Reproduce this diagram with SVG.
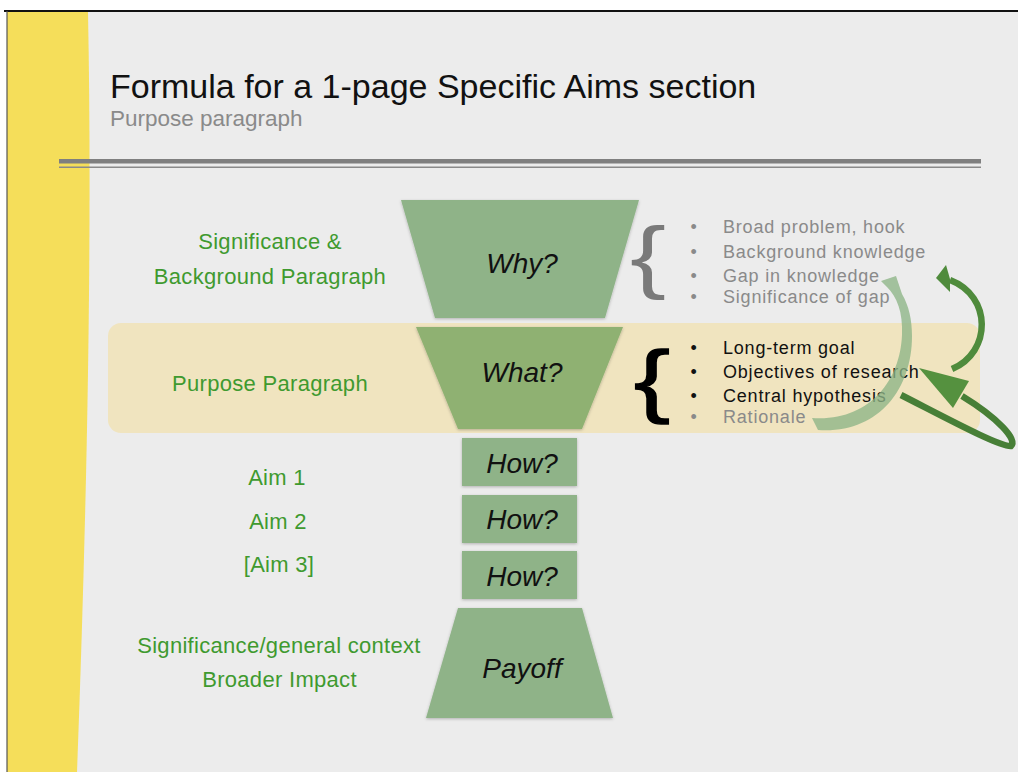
<svg xmlns="http://www.w3.org/2000/svg" width="1018" height="772" viewBox="0 0 1018 772">
<defs>
<style>
.t{font-family:"Liberation Sans",Arial,sans-serif}
.lbl{font-family:"Liberation Sans",Arial,sans-serif;font-size:22px;fill:#3f9a2f;text-anchor:middle;letter-spacing:0.3px}
.q{font-family:"Liberation Sans",Arial,sans-serif;font-size:28px;font-style:italic;fill:#111;text-anchor:middle}
.shape{fill:#8fb388;filter:url(#sh)}
.li{font-family:"Liberation Sans",Arial,sans-serif;font-size:18px;letter-spacing:0.8px}
.g{fill:#8a8a8a}
.k{fill:#111}
</style>
<filter id="sh" x="-10%" y="-10%" width="120%" height="130%">
<feDropShadow dx="0" dy="1" stdDeviation="1.5" flood-color="#000" flood-opacity="0.25"/>
</filter>
</defs>
<rect x="0" y="0" width="1018" height="772" fill="#ffffff"/>
<rect x="7" y="11" width="1011" height="761" fill="#ececec"/>
<path d="M7 12 L88 12 Q94 320 77 772 L7 772 Z" fill="#f5de5a"/>
<line x1="4" y1="11" x2="1018" y2="11" stroke="#111" stroke-width="2"/>
<line x1="7" y1="11" x2="7" y2="772" stroke="#555" stroke-width="1.2"/>

<g id="title">
<text class="t" x="110" y="98" font-size="34" fill="#111">Formula for a 1-page Specific Aims section</text>
<text class="t" x="110" y="126" font-size="22.5" fill="#8a8a8a">Purpose paragraph</text>
<rect x="59" y="159" width="922" height="4.5" fill="#7f7f7f"/>
<rect x="59" y="166.5" width="922" height="1.5" fill="#8a8a8a"/>
</g>

<g id="purpose-band">
<rect x="108" y="323" width="872" height="110" rx="13" fill="#f0e4bf"/>
</g>

<g id="why">
<polygon class="shape" points="401,200 639,200 605,318 435,318"/>
<text class="q" x="522" y="273">Why?</text>
</g>
<g id="what">
<polygon class="shape" points="416,327 623,327 582,429 458,429" style="fill:#8fb172"/>
<text class="q" x="522" y="382">What?</text>
</g>
<g id="how1">
<rect class="shape" x="462" y="438" width="115" height="48"/>
<text class="q" x="522" y="473">How?</text>
</g>
<g id="how2">
<rect class="shape" x="462" y="495" width="115" height="48"/>
<text class="q" x="522" y="529">How?</text>
</g>
<g id="how3">
<rect class="shape" x="462" y="551" width="115" height="48"/>
<text class="q" x="522" y="586">How?</text>
</g>
<g id="payoff">
<polygon class="shape" points="458,608 582,608 613,718 426,718"/>
<text class="q" x="522" y="678" font-size="26">Payoff</text>
</g>

<g id="left-labels">
<text class="lbl" x="270" y="249">Significance &amp;</text>
<text class="lbl" x="270" y="284">Background Paragraph</text>
<text class="lbl" x="270" y="391">Purpose Paragraph</text>
<text class="lbl" x="277" y="485">Aim 1</text>
<text class="lbl" x="278" y="529">Aim 2</text>
<text class="lbl" x="279" y="572">[Aim 3]</text>
<text class="lbl" x="279" y="653">Significance/general context</text>
<text class="lbl" x="279.5" y="687">Broader Impact</text>
</g>

<g id="why-list">
<text class="t" x="0" y="0" font-size="80" fill="#7a7a7a" transform="translate(630,283) scale(1.35,1)">{</text>
<text class="li g" x="694" y="233" text-anchor="middle">•</text>
<text class="li g" x="694" y="258" text-anchor="middle">•</text>
<text class="li g" x="694" y="282" text-anchor="middle">•</text>
<text class="li g" x="694" y="303" text-anchor="middle">•</text>
<text class="li g" x="723" y="233">Broad problem, hook</text>
<text class="li g" x="723" y="258">Background knowledge</text>
<text class="li g" x="723" y="282">Gap in knowledge</text>
<text class="li g" x="723" y="303">Significance of gap</text>
</g>

<g id="what-list">
<text class="t" x="0" y="0" font-size="80" fill="#000" stroke="#000" stroke-width="1.3" transform="translate(634,407) scale(1.35,1)">{</text>
<text class="li k" x="694" y="354" text-anchor="middle">•</text>
<text class="li k" x="694" y="378" text-anchor="middle">•</text>
<text class="li k" x="694" y="402" text-anchor="middle">•</text>
<text class="li g" x="694" y="423" text-anchor="middle">•</text>
<text class="li k" x="723" y="354">Long-term goal</text>
<text class="li k" x="723" y="378">Objectives of research</text>
<text class="li k" x="723" y="402">Central hypothesis</text>
<text class="li g" x="723" y="423">Rationale</text>
</g>

<g id="connectors">
<path d="M812 418 C868 422 900 382 902 335 C903 312 897 297 887 287 L881 281 L896 276 L902 294 C909 306 912 320 912 336 C912 392 876 434 818 430 Z" fill="#8db586" fill-opacity="0.78"/>
<path d="M952 369 C992 352 992 296 950 280" fill="none" stroke="#4f8b3c" stroke-width="6.5"/>
<polygon points="936,278 946,265 950,279 950,292" fill="#4f8b3c"/>
<path d="M901 395 C950 420 1000 447 1011 446 C1018 440 998 418 962 396" fill="none" stroke="#477f37" stroke-width="6.5"/>
<polygon points="919,368 969,381 953,408" fill="#55913f"/>
</g>
</svg>
